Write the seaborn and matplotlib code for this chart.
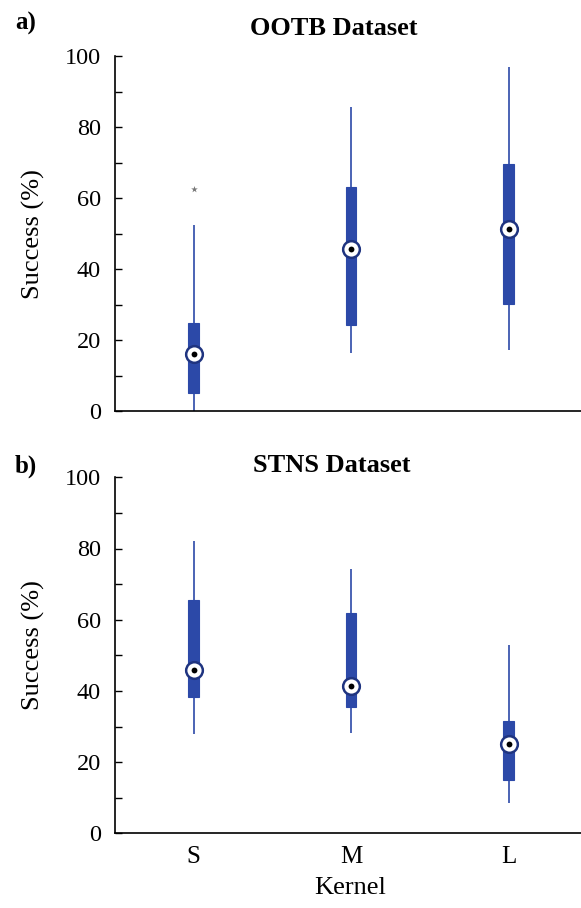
import numpy as np
import pandas as pd
import matplotlib
matplotlib.use("Agg")
import matplotlib.pyplot as plt
from matplotlib.ticker import MultipleLocator
import seaborn as sns

# Kernel sizes on the x axis
kernels = ["S", "M", "L"]

# Five-number summaries (lower whisker, Q1, median, Q3, upper whisker), in %
ootb_low = [0.0, 16.3, 17.2]
ootb_q1 = [5.2, 24.2, 30.3]
ootb_median = [16.0, 45.8, 51.2]
ootb_q3 = [24.9, 63.2, 69.6]
ootb_high = [52.4, 85.7, 97.0]
ootb_outlier_kernel = ["S"]
ootb_outlier_value = [62.5]

stns_low = [27.9, 28.3, 8.4]
stns_q1 = [38.2, 35.4, 15.0]
stns_median = [45.9, 41.4, 25.0]
stns_q3 = [65.5, 62.0, 31.6]
stns_high = [82.2, 74.2, 52.9]

BLUE = "#2c49a8"
RING = "#1f3480"


def summary_frame(low, q1, med, q3, high):
    rows = []
    for i, k in enumerate(kernels):
        for v in (low[i], q1[i], med[i], q3[i], high[i]):
            rows.append({"Kernel": k, "Success": v})
    return pd.DataFrame(rows)


sns.set_theme(style="white")
plt.rcParams["font.family"] = ["Liberation Serif", "DejaVu Serif"]
plt.rcParams.update({
    "text.color": "black",
    "axes.labelcolor": "black",
    "xtick.color": "black",
    "ytick.color": "black",
})

fig = plt.figure(figsize=(5.81, 9.08), dpi=100)
W, H = 581.0, 908.0
unit = 157.5  # pixels between neighbouring kernels
left_px = 193.5 - 0.5 * unit
ax_w = 3 * unit / W

ax_top = fig.add_axes([left_px / W, (H - 411.3) / H, ax_w, (411.3 - 56.0) / H])
ax_bot = fig.add_axes([left_px / W, (H - 833.3) / H, ax_w, (833.3 - 477.3) / H])

panels = [
    (ax_top, summary_frame(ootb_low, ootb_q1, ootb_median, ootb_q3, ootb_high), ootb_median),
    (ax_bot, summary_frame(stns_low, stns_q1, stns_median, stns_q3, stns_high), stns_median),
]

for ax, df, med in panels:
    # whiskers span the full range, quartiles are the 2nd and 4th values
    sns.boxplot(
        data=df, x="Kernel", y="Success", order=kernels, ax=ax,
        whis=(0, 100), width=0.064, showcaps=False, showfliers=False,
        color=BLUE, linecolor=BLUE, linewidth=1.2, saturation=1,
        boxprops=dict(facecolor=BLUE, edgecolor=BLUE, linewidth=0.8),
        whiskerprops=dict(color=BLUE, linewidth=1.2),
        medianprops=dict(visible=False),
    )
    # median marker: white ring with a black centre dot
    sns.stripplot(x=kernels, y=med, order=kernels, ax=ax, jitter=False,
                  color="white", edgecolor=RING, linewidth=1.8, size=12,
                  marker="o", zorder=5)
    sns.stripplot(x=kernels, y=med, order=kernels, ax=ax, jitter=False,
                  color="black", size=4.2, marker="o", linewidth=0, zorder=6)

    ax.set_xlim(-0.5, 2.5)
    ax.set_ylim(0, 100)
    ax.yaxis.set_major_locator(MultipleLocator(20))
    ax.yaxis.set_minor_locator(MultipleLocator(10))
    ax.tick_params(axis="y", which="both", direction="in", length=5, width=1,
                   color="black", labelsize=17.5, pad=10, left=True)
    ax.tick_params(axis="x", length=0, labelsize=18, pad=9)
    for side in ("top", "right"):
        ax.spines[side].set_visible(False)
    for side in ("left", "bottom"):
        ax.spines[side].set_color("black")
        ax.spines[side].set_linewidth(1.2)
    ax.set_ylabel("Success (%)", fontsize=19)
    ax.set_facecolor("white")

# outlier of the small kernel on OOTB
sns.stripplot(x=ootb_outlier_kernel, y=ootb_outlier_value, order=kernels,
              ax=ax_top, jitter=False, color="#777777", marker="*", size=5,
              linewidth=0, zorder=4)

ax_top.set_xlabel("")
ax_top.set_xticklabels([])
ax_top.yaxis.set_label_coords(-0.148, 0.5)
ax_bot.yaxis.set_label_coords(-0.148, 0.53)
ax_bot.set_xlabel("Kernel", fontsize=19)
ax_bot.xaxis.set_label_coords(0.498, -0.122)

fig.text(334 / W, 1 - 35 / H, "OOTB Dataset", ha="center", va="baseline",
         fontsize=19, fontweight="bold")
fig.text(332 / W, 1 - 472 / H, "STNS Dataset", ha="center", va="baseline",
         fontsize=19, fontweight="bold")
fig.text(15 / W, 1 - 30 / H, "a)", ha="left", va="baseline",
         fontsize=18, fontweight="bold")
fig.text(15 / W, 1 - 473 / H, "b)", ha="left", va="baseline",
         fontsize=18, fontweight="bold")

fig.savefig("out.png", dpi=100, facecolor="white")
